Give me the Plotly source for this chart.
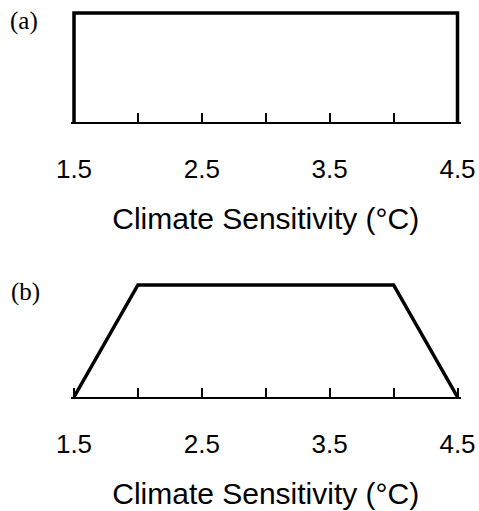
import plotly.graph_objects as go

# ---- data ----
x_ticks = [1.5, 2.0, 2.5, 3.0, 3.5, 4.0, 4.5]
tick_labels = ["1.5", "", "2.5", "", "3.5", "", "4.5"]
axis_title = "Climate Sensitivity (°C)"

# (a) uniform prior on climate sensitivity
a_x = [1.5, 1.5, 4.5, 4.5]
a_y = [0, 1 / 3, 1 / 3, 0]

# (b) trapezoidal prior
b_x = [1.5, 2.0, 4.0, 4.5]
b_y = [0, 0.4, 0.4, 0]

panel_labels = ["(a)", "(b)"]

W, H = 479, 511

fig = go.Figure()
fig.add_trace(go.Scatter(x=a_x, y=a_y, mode="lines", xaxis="x", yaxis="y",
                         line=dict(color="black", width=3.5), showlegend=False,
                         hoverinfo="skip"))
fig.add_trace(go.Scatter(x=b_x, y=b_y, mode="lines", xaxis="x2", yaxis="y2",
                         line=dict(color="black", width=3.5), showlegend=False,
                         hoverinfo="skip"))

px_per_unit = 383.5 / 3.0
pad = 3 / px_per_unit
xr = [1.5 - pad, 4.5 + pad]
xdom = [(74 - 3) / W, (457.5 + 3) / W]

xcommon = dict(
    range=xr, showline=True, linecolor="black", linewidth=2,
    ticks="inside", ticklen=9, tickwidth=2, tickcolor="black",
    tickvals=x_ticks, ticktext=tick_labels, showgrid=False, zeroline=False,
    tickfont=dict(family="Liberation Sans", size=26, color="black"),
    ticklabelstandoff=23, automargin=False,
    title=dict(text=axis_title, standoff=25,
               font=dict(family="Liberation Sans", size=30, color="black")),
    fixedrange=True,
)

ycommon = dict(showline=False, showticklabels=False, ticks="", showgrid=False,
               zeroline=False, fixedrange=True, automargin=False)

label_font = dict(family="Liberation Serif", size=25, color="black")

fig.update_layout(
    width=W, height=H, margin=dict(l=0, r=0, t=0, b=0, autoexpand=False),
    paper_bgcolor="white", plot_bgcolor="white",
    xaxis=dict(domain=xdom, anchor="y", **xcommon),
    yaxis=dict(domain=[(H - 122) / H, (H - 10) / H], anchor="x",
               range=[0, 1 / 3 + 3 / 327.0], **ycommon),
    xaxis2=dict(domain=xdom, anchor="y2", **xcommon),
    yaxis2=dict(domain=[(H - 397) / H, (H - 282) / H], anchor="x2",
                range=[0, 0.4 + 3 / 280.0], **ycommon),
    annotations=[
        dict(text=panel_labels[0], x=24 / W, y=(H - 21) / H, xref="paper", yref="paper",
             xanchor="center", yanchor="middle", showarrow=False, font=label_font),
        dict(text=panel_labels[1], x=25 / W, y=(H - 292) / H, xref="paper", yref="paper",
             xanchor="center", yanchor="middle", showarrow=False, font=label_font),
    ],
)

fig.write_html("out.html")
